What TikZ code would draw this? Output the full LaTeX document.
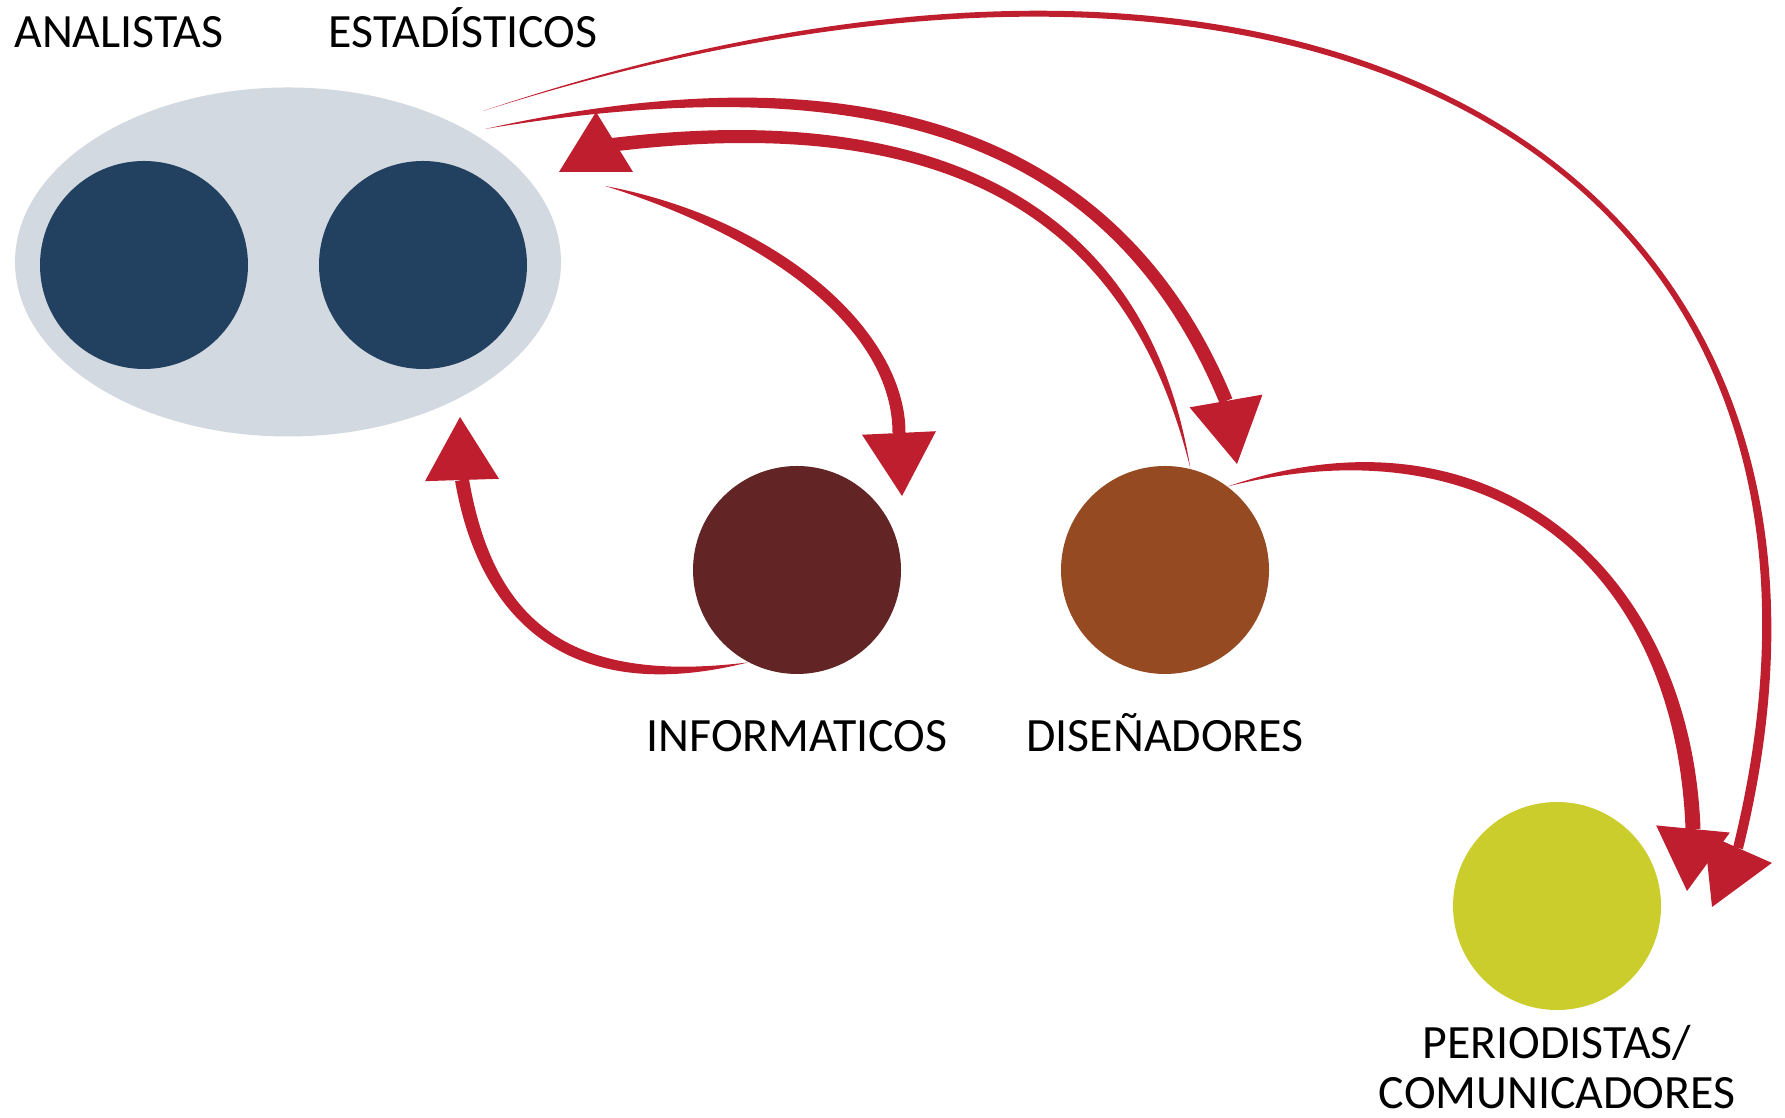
\documentclass[tikz,border=0pt]{standalone}
\usepackage{fontspec}
\setmainfont{Carlito}
\usepackage{tikz}
\usetikzlibrary{positioning, calc, shapes.geometric}
\definecolor{grisgrupo}{HTML}{D3D9E0}
\definecolor{azulgrupo}{HTML}{22405F}
\definecolor{informcolor}{HTML}{632425}
\definecolor{disencolor}{HTML}{954A22}
\definecolor{periocolor}{HTML}{CBCD2C}
\definecolor{flecharoja}{HTML}{BE1E2D}

% tapered shaft: start, control 1, control 2, end, half width
\newcommand{\cola}[5]{%
  \fill[flecharoja] (#1) .. controls ($(#2)!1.6*#5!90:(#1)$) and ($(#3)!#5!-90:(#4)$) .. ($(#4)!#5!90:(#3)$)
    -- ($(#4)!#5!-90:(#3)$) .. controls ($(#3)!#5!90:(#4)$) and ($(#2)!1.6*#5!-90:(#1)$) .. (#1);}
% arrow head: base centre, tip
\newcommand{\punta}[2]{%
  \fill[flecharoja] (#2) -- ($(#1)!0.37cm!90:(#2)$) -- ($(#1)!0.37cm!-90:(#2)$) -- cycle;}

\begin{document}
\begin{tikzpicture}[
    circulo/.style={circle, minimum size=2.08cm, inner sep=0pt},
    etiqueta/.style={font=\fontsize{13.6}{14.2}\selectfont, inner sep=0pt},
]
\useasboundingbox (0,0) rectangle (17.85,11.18);

% Analistas y estadisticos
\node[ellipse, fill=grisgrupo, minimum width=5.46cm, minimum height=3.49cm, inner sep=0pt] (grupo) at (2.88,8.56) {};
\node[circulo, fill=azulgrupo] (anal) at (1.44,8.53) {};
\node[circulo, fill=azulgrupo] (estad) at (4.23,8.53) {};
\node[etiqueta, anchor=base] (lanal) at (1.19,10.70) {ANALISTAS};
\node[etiqueta, anchor=base] (lestad) at (4.63,10.70) {ESTADÍSTICOS};

% Otros perfiles
\node[circulo, fill=informcolor] (info) at (7.97,5.48) {};
\node[circulo, fill=disencolor] (dise) at (11.65,5.48) {};
\node[circulo, fill=periocolor] (peri) at (15.57,2.12) {};
\node[etiqueta, below=0.77cm of info, anchor=base] (linfo) {INFORMATICOS};
\node[etiqueta, below=0.77cm of dise, anchor=base] (ldise) {DISEÑADORES};
\node[etiqueta, below=0.98cm of peri, anchor=base, align=center] (lperi) {PERIODISTAS/\\COMUNICADORES};

% salidas y puntas
\coordinate (sA) at (6.05,9.32);  \coordinate (eA) at (8.99,6.85);  \coordinate (tA) at (9.02,6.22);
\coordinate (eB) at (4.62,6.38);  \coordinate (tB) at (4.60,7.01);
\coordinate (sC) at (4.85,9.89);  \coordinate (eC) at (12.26,7.17); \coordinate (tC) at (12.37,6.54);
\coordinate (eD) at (6.03,9.72);  \coordinate (bD) at (5.96,9.46);  \coordinate (tD) at (5.96,10.06);
\coordinate (sE) at (4.83,10.07); \coordinate (eE) at (17.38,2.70); \coordinate (tE) at (17.12,2.11);
\coordinate (eF) at (16.93,2.89); \coordinate (tF) at (16.87,2.27);

\cola{sA}{7.74,8.90}{8.99,7.88}{eA}{0.065cm}      \punta{eA}{tA}
\cola{info.242}{5.73,4.23}{4.87,4.93}{eB}{0.07cm} \punta{eB}{tB}
\cola{sC}{8.75,10.65}{11.18,9.79}{eC}{0.068cm}   \punta{eC}{tC}
\cola{dise.76}{11.38,9.06}{9.45,10.16}{eD}{0.068cm} \punta{bD}{tD}
\cola{sE}{13.48,12.89}{19.02,9.32}{eE}{0.05cm}  \punta{eE}{tE}
\cola{dise.53}{14.92,7.10}{16.83,5.51}{eF}{0.075cm} \punta{eF}{tF}

\end{tikzpicture}
\end{document}
